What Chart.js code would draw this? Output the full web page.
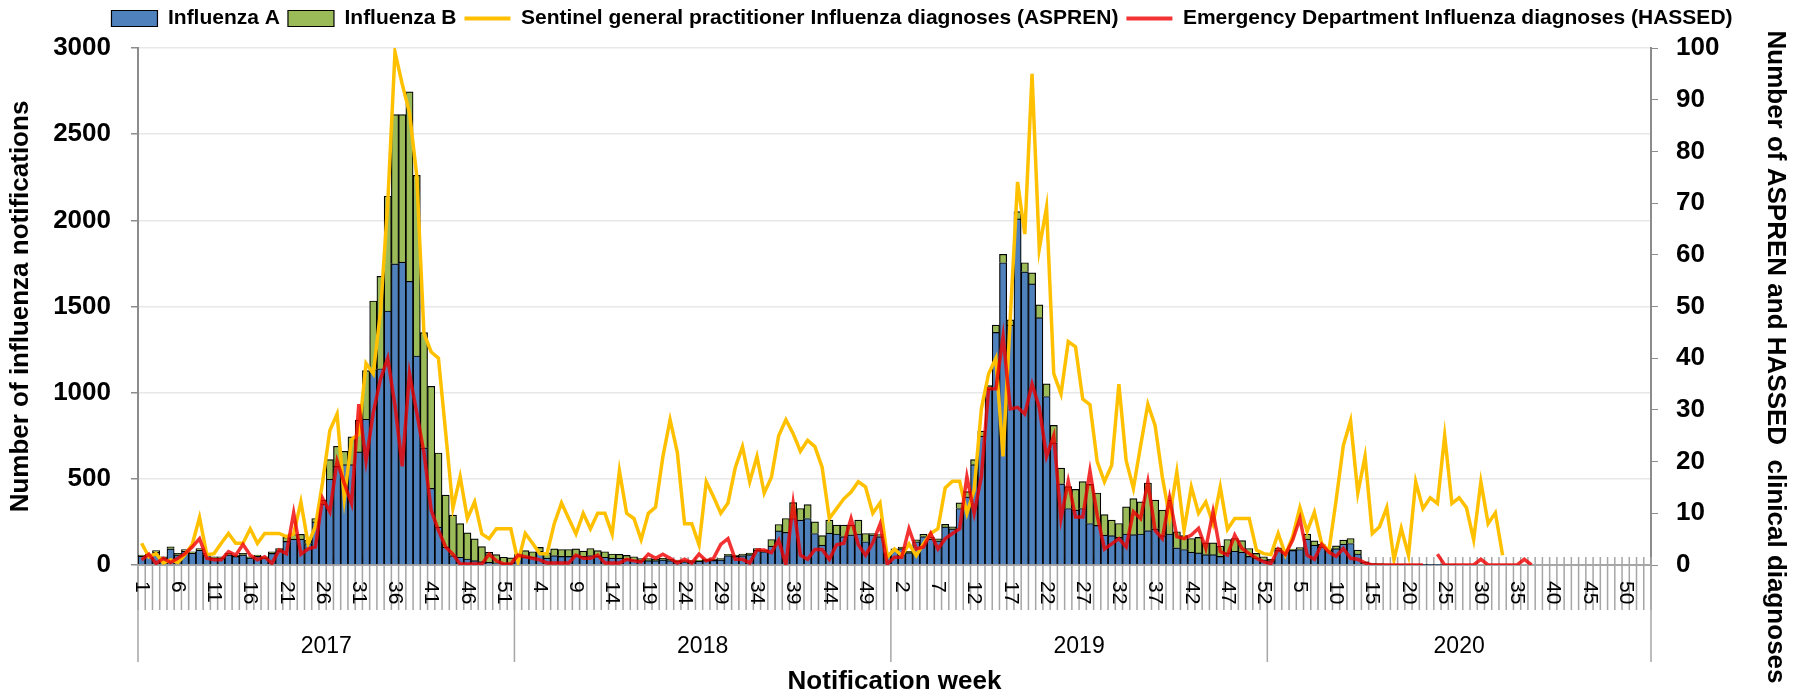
<!DOCTYPE html>
<html>
<head>
<meta charset="utf-8">
<script src="https://cdn.jsdelivr.net/npm/chart.js@4.4.0/dist/chart.umd.min.js"></script>
<style>
  html, body { margin: 0; padding: 0; background: #fff; }
</style>
</head>
<body>
<canvas id="fluChart" width="1798" height="696"></canvas>
<script>
// notification years and how many weeks each has
const years = ['2017', '2018', '2019', '2020'];
const weeksPerYear = [52, 52, 52, 53];

// lab confirmed notifications (left axis)
const fluA2017 = [52,56,75,42,94,59,80,69,86,59, 42,42,59,50,59,42,50,42,67,84, 137,150,150,125,250,355,498,572,582,582,
  656,846,1133,1139,1474,1748,1758,1646,1213,680, 445,220,103,55,45,35,25,20,15,12, 10,10];
const fluB2017 = [6,8,8,6,12,8,10,8,10,8, 6,6,8,8,8,6,8,6,10,12, 23,27,28,18,20,22,113,117,78,162,
  185,282,399,536,666,865,855,1100,1048,669, 592,430,303,234,195,151,127,87,59,48, 35,31];
const fluA2018 = [45,45,45,80,40,55,50,50,55,50, 55,50,45,40,40,35,30,25,25,25, 30,25,22,20,20,22,27,27,30,55,
  50,55,60,85,78,110,198,190,270,260, 270,183,115,185,180,165,175,180,135,175, 165,60];
const fluB2018 = [19,38,32,22,31,39,40,40,39,31, 41,33,32,24,22,21,18,12,12,8, 9,8,7,5,5,7,6,6,7,7,
  6,9,9,11,9,38,37,80,92,68, 81,67,55,75,51,66,56,80,48,8, 12,11];
const fluA2019 = [85,95,72,135,165,150,140,221,210,328, 396,582,748,1021,1350,1754,1392,2008,1701,1631,
  1435,978,709,471,328,318,328,241,230,173, 170,160,180,176,180,200,210,170,180,100, 90,75,70,60,60,50,70,80,75,50, 40,30];
const fluB2019 = [9,9,8,11,13,12,12,15,11,33, 30,29,29,20,42,49,30,43,53,64,
  75,73,101,91,127,121,156,227,188,120, 90,81,157,209,186,276,166,148,196,93, 80,79,90,69,69,60,78,74,66,46, 27,18];
const fluA2020 = [25,85,75,85,90,150,115,105,85,95, 121,125,64,15,8,6,5,4,3,3, 3,2,2,2,2,1,null,null,null,null,
  null,null,null,null,null,null,null,null,null,null, null,null,null,null,null,null,null,null,null,null, null,null,null];
const fluB2020 = [8,15,10,8,11,29,25,15,10,16, 24,29,23,4,2,2,1,1,1,1, 0,1,1,0,0,0,null,null,null,null,
  null,null,null,null,null,null,null,null,null,null, null,null,null,null,null,null,null,null,null,null, null,null,null];

// clinical diagnoses (right axis)
const aspren2017 = [4.2,1.6,2.2,0.4,1,0.5,2,4,9.2,2, 2.2,4.2,6.1,4.2,4.2,7,4.2,6.1,6.1,6.1, 5.5,6,12.2,4.1,7.4,16,26,29.2,12.9,24.3,
  25.3,39,37,49,70,99.2,93,87.5,75.4,44.8, 41.2,40,25.6,11,17.1,9,12.2,6,5.1,7, 7,7];
const hassed2017 = [1,2.1,0.3,1.3,0.5,1.3,2.2,3.5,5.1,1.3, 1,1,2.6,1.9,4,1.9,1,1.6,0.3,2.9, 2.2,10.1,2.1,3.1,3.5,12.9,10.3,20.1,15.8,11.9,
  31.1,20.1,29.5,36,40,30.8,19.1,37,29.5,21.7, 10.6,6.7,3.5,2.1,0.2,0.2,0.2,0.2,2.1,0.8, 0.2,0.2];
const aspren2018 = [0.6,6.1,4.2,2.2,2.2,8,12,9,6,10, 7,10,10,6,18.2,10,9,4.9,10,11.2, 20.9,28.1,21.8,8,8,3.9,16.1,13.2,10,12,
  18.8,22.9,16.1,21,13.9,17,25,28.1,25.4,22, 24.1,22.9,18.9,9,10.9,12.8,14.1,16.1,15.1,10, 12,1.5];
const hassed2018 = [1.9,1.6,1.3,1,0.4,0.4,0.4,0.4,1.9,1.3, 1.3,1.9,0.4,0.4,0.4,1.1,0.8,0.6,2.1,1.3, 2.1,1.3,0.4,1.1,0.4,2.1,0.8,1.3,4,5.1,
  1.1,1.1,0.4,2.9,2.9,2.4,4.8,0.1,11.9,1.9, 1.1,3,3,1.1,3.9,4.2,9,3.9,1.9,4.3, 7.9,0.2];
const aspren2019 = [3.1,1.8,4.1,1.8,4.1,6.1,7,14.9,16.2,16.2, 10,14.5,30.2,37,40,21,48,74.1,64,95, 61.1,69.2,37,33.1,43.2,42.2,32.1,31,20,16.1,
  19.3,35,20.2,14.8,23.1,31.1,27,17,9.3,18, 6.7,15.1,10,12.2,8,15.1,6.9,9,9,9, 2.9,2.2];
const hassed2019 = [1.5,1.5,7,3.1,3.5,6.1,3.1,5.1,6.1,7, 17.1,10,17.1,34.1,34.1,44.2,30.2,30.5,29.2,35, 30.5,21,25,9,16.2,9.3,9.3,18.2,9.6,3.1,
  4.1,5.1,3.5,10.3,9,16.1,6.7,5.1,13,5.5, 5.1,5.8,7.1,3.2,10.3,2.6,1.9,5.8,3.2,2.2, 1.3,0.6];
const aspren2020 = [2,6.1,2,5.5,11.1,6.5,10.2,4.2,2.7,12.5, 23.1,27.9,13.9,21,6.1,7.4,11.1,1,7.1,1.9, 16.1,10.9,13,11.9,25,11.9,13,11.1,4.9,16.1,
  8,10.1,1.9,null,null,null,null,null,null,null, null,null,null,null,null,null,null,null,null,null, null,null,null];
const hassed2020 = [0.3,3.1,2,4.8,9,1.9,1.1,4,2.5,1.7, 3.2,1.3,1.1,0.4,0,0,0,0,0,0, 0,0,null,2.1,0,0,0,0,0,1.1,
  0,0,0,0,0,1.1,0,null,null,null, null,null,null,null,null,null,null,null,null,null, null,null,null];

// week labels and the year each category belongs to
const weekLabels = [];
const yearOf = [];
years.forEach((yr, j) => {
  for (let w = 1; w <= weeksPerYear[j]; w++) { weekLabels.push(String(w)); yearOf.push(yr); }
});

const fluA = [...fluA2017, ...fluA2018, ...fluA2019, ...fluA2020];
const fluB = [...fluB2017, ...fluB2018, ...fluB2019, ...fluB2020];
const aspren = [...aspren2017, ...aspren2018, ...aspren2019, ...aspren2020];
const hassed = [...hassed2017, ...hassed2018, ...hassed2019, ...hassed2020];

const FONT = "'Liberation Sans', Arial, sans-serif";
Chart.defaults.font.family = FONT;
Chart.defaults.color = '#000';

// Excel style week axis: every-week tick marks, labels turned 90deg, year groups below
const weekAxis = {
  id: 'weekAxis',
  beforeDatasetsDraw(chart) {
    const {ctx, chartArea, scales: {x}} = chart;
    const half = (x.getPixelForValue(1) - x.getPixelForValue(0)) / 2;
    const base = chartArea.bottom;
    ctx.save();
    ctx.strokeStyle = '#A6A6A6';
    ctx.lineWidth = 1.5;
    ctx.beginPath();
    for (let i = 0; i <= weekLabels.length; i++) {
      const px = x.getPixelForValue(i) - half;
      ctx.moveTo(px, base - 8);
      ctx.lineTo(px, base + 45);
    }
    ctx.stroke();
    // year separators
    ctx.beginPath();
    for (let i = 0; i <= weekLabels.length; i++) {
      if (i === 0 || i === weekLabels.length || yearOf[i] !== yearOf[i - 1]) {
        const px = x.getPixelForValue(i) - half;
        ctx.moveTo(px, base);
        ctx.lineTo(px, base + 97);
      }
    }
    ctx.stroke();
    ctx.lineWidth = 2;
    ctx.beginPath();
    ctx.moveTo(chartArea.left, base);
    ctx.lineTo(chartArea.right, base);
    ctx.stroke();
    ctx.restore();
  },
  afterDraw(chart) {
    const {ctx, chartArea, scales: {x}} = chart;
    const base = chartArea.bottom;
    ctx.save();
    ctx.fillStyle = '#000';
    ctx.font = '21px ' + FONT;
    ctx.textAlign = 'left';
    ctx.textBaseline = 'middle';
    weekLabels.forEach((lab, i) => {
      if (i % 5 !== 0) return;
      ctx.save();
      ctx.translate(x.getPixelForValue(i), base + 16);
      ctx.rotate(Math.PI / 2);
      ctx.fillText(lab, 0, 0);
      ctx.restore();
    });
    ctx.font = '23px ' + FONT;
    ctx.textAlign = 'center';
    years.forEach(yr => {
      const first = yearOf.indexOf(yr);
      const last = yearOf.lastIndexOf(yr);
      ctx.fillText(yr, (x.getPixelForValue(first) + x.getPixelForValue(last)) / 2, base + 82);
    });
    ctx.font = 'bold 26px ' + FONT;
    ctx.fillText('Notification week', (chartArea.left + chartArea.right) / 2, base + 117);
    // right axis title sits lower than the plot centre in the original
    ctx.translate(chart.width - 23, 357);
    ctx.rotate(Math.PI / 2);
    ctx.fillText('Number of ASPREN and HASSED  clinical diagnoses', 0, 0);
    ctx.restore();
  }
};

// a little more room under the legend, and centre it over the plot
const legendPlace = {
  id: 'legendPlace',
  beforeLayout(chart) {
    const lg = chart.legend;
    if (lg && !lg._roomAdded) {
      const fit = lg.fit;
      lg.fit = function () { fit.call(this); this.height += 9; };
      lg._roomAdded = true;
    }
  },
  afterLayout(chart) {
    chart.legend.left += 23;
    chart.legend.right += 23;
  }
};

const ctx = document.getElementById('fluChart').getContext('2d');
const fluChart = new Chart(ctx, {
  type: 'bar',
  data: {
    labels: weekLabels,
    datasets: [
      {
        type: 'bar',
        label: 'Influenza A',
        data: fluA,
        backgroundColor: '#4F81BD',
        borderColor: '#000',
        borderWidth: 1.2,
        pointStyle: 'rect',
        yAxisID: 'y',
        order: 3,
        barPercentage: 1,
        categoryPercentage: 1
      },
      {
        type: 'bar',
        label: 'Influenza B',
        data: fluB,
        backgroundColor: '#9BBB59',
        borderColor: '#000',
        borderWidth: 1.2,
        pointStyle: 'rect',
        yAxisID: 'y',
        order: 3,
        barPercentage: 1,
        categoryPercentage: 1
      },
      {
        type: 'line',
        label: 'Sentinel general practitioner Influenza diagnoses (ASPREN)',
        data: aspren,
        borderColor: '#FFC000',
        borderWidth: 3.5,
        pointRadius: 0,
        pointHoverRadius: 0,
        pointStyle: 'line',
        pointBorderColor: '#FFC000',
        pointBorderWidth: 4,
        yAxisID: 'y2',
        order: 2
      },
      {
        type: 'line',
        label: 'Emergency Department Influenza diagnoses (HASSED)',
        data: hassed,
        borderColor: 'rgba(240,0,0,0.8)',
        borderWidth: 3.5,
        pointRadius: 0,
        pointHoverRadius: 0,
        pointStyle: 'line',
        pointBorderColor: 'rgba(240,0,0,0.8)',
        pointBorderWidth: 4,
        yAxisID: 'y2',
        order: 1
      }
    ]
  },
  options: {
    responsive: false,
    animation: false,
    layout: { padding: 0 },
    scales: {
      x: {
        stacked: true,
        grid: { display: false },
        border: { display: false },
        ticks: { display: false },
        afterFit(s) { s.height = 131; }
      },
      y: {
        position: 'left',
        stacked: true,
        min: 0,
        max: 3000,
        ticks: {
          stepSize: 500,
          padding: 20,
          font: { size: 26, weight: 'bold' },
          callback: v => String(v)
        },
        grid: {
          color: '#E8E8E8',
          lineWidth: 1.5,
          tickColor: '#8C8C8C',
          tickLength: 7
        },
        border: { display: true, color: '#8C8C8C', width: 2 },
        title: {
          display: true,
          text: 'Number of influenza notifications',
          font: { size: 26, weight: 'bold' },
          padding: { top: 5, bottom: 0 }
        },
        afterFit(s) { s.width = 138; }
      },
      y2: {
        position: 'right',
        min: 0,
        max: 100,
        ticks: {
          stepSize: 10,
          padding: 18,
          font: { size: 26, weight: 'bold' }
        },
        grid: {
          drawOnChartArea: false,
          tickColor: '#8C8C8C',
          tickLength: 7
        },
        border: { display: true, color: '#8C8C8C', width: 2 },
        afterFit(s) { s.width = 147; }
      }
    },
    plugins: {
      legend: {
        position: 'top',
        labels: {
          usePointStyle: true,
          pointStyleWidth: 46,
          boxHeight: 16,
          padding: 8,
          font: { size: 21, weight: 'bold' },
          sort: (a, b) => a.datasetIndex - b.datasetIndex
        }
      },
      tooltip: { enabled: false }
    }
  },
  plugins: [weekAxis, legendPlace]
});
</script>
</body>
</html>
